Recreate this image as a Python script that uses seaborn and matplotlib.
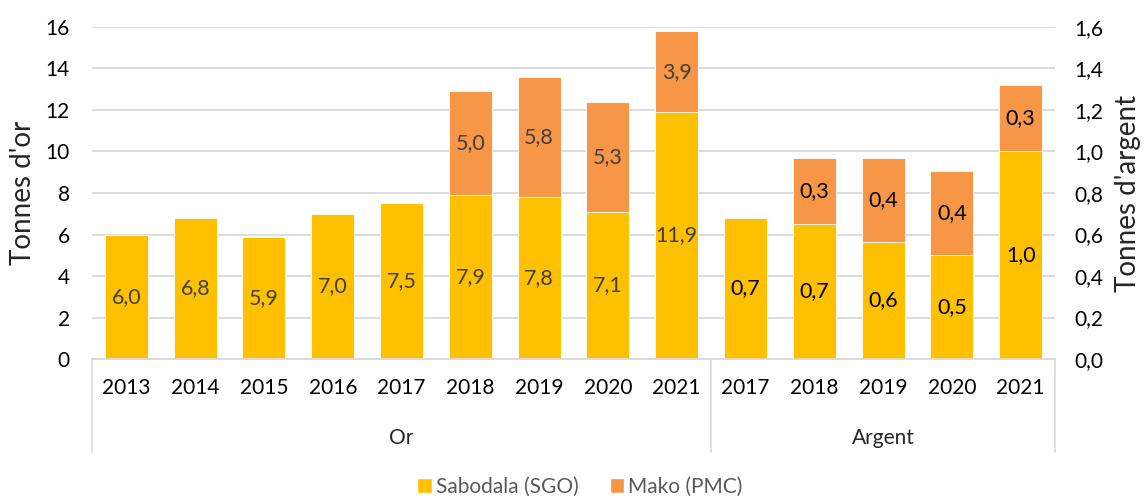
import pandas as pd
import matplotlib.pyplot as plt
import seaborn as sns
from matplotlib.patches import Patch

# Données
or_years = ['2013', '2014', '2015', '2016', '2017', '2018', '2019', '2020', '2021']
or_sgo = [6.0, 6.8, 5.9, 7.0, 7.5, 7.9, 7.8, 7.1, 11.9]
or_pmc = [0.0, 0.0, 0.0, 0.0, 0.0, 5.0, 5.8, 5.3, 3.9]

ag_years = ['2017', '2018', '2019', '2020', '2021']
ag_sgo = [0.68, 0.65, 0.565, 0.50, 1.0]
ag_pmc = [0.0, 0.32, 0.405, 0.405, 0.32]

groups = ['Or', 'Argent']
series = ['Sabodala (SGO)', 'Mako (PMC)']
gold_ticks = [0, 2, 4, 6, 8, 10, 12, 14, 16]
silver_ticks = [0.0, 0.2, 0.4, 0.6, 0.8, 1.0, 1.2, 1.4, 1.6]

C_SGO = '#FFC000'
C_PMC = '#F79646'
GRID = '#D9D9D9'

sns.set_theme(style='white')
plt.rcParams['font.family'] = ['Lato', 'DejaVu Sans']

df_or = pd.DataFrame({'cat': ['Or ' + y for y in or_years], 'sgo': or_sgo, 'pmc': or_pmc})
df_ag = pd.DataFrame({'cat': ['Argent ' + y for y in ag_years], 'sgo': ag_sgo, 'pmc': ag_pmc})
df_or['total'] = df_or['sgo'] + df_or['pmc']
df_ag['total'] = df_ag['sgo'] + df_ag['pmc']
order = list(df_or['cat']) + list(df_ag['cat'])

fig = plt.figure(figsize=(11.46, 4.98), dpi=100)
ax = fig.add_axes([0.0803, 0.2791, 0.8403, 0.6667])
ax2 = ax.twinx()

def draw(axis, data, label_color, fmt):
    sns.barplot(data=data, x='cat', y='total', order=order, color=C_PMC, saturation=1,
                width=0.625, edgecolor='white', linewidth=0.6, ax=axis)
    n_tot = len(axis.patches)
    sns.barplot(data=data, x='cat', y='sgo', order=order, color=C_SGO, saturation=1,
                width=0.625, edgecolor='white', linewidth=0.6, ax=axis)
    sgo_bars = axis.containers[-1]
    axis.bar_label(sgo_bars, labels=[fmt(v) for v in data['sgo']], label_type='center',
                   color=label_color, fontsize=15.5)
    tot_patches = [p for p in axis.patches[:n_tot] if p.get_height() > 0]
    for p, s, m in zip(tot_patches, data['sgo'], data['pmc']):
        if m > 0:
            axis.text(p.get_x() + p.get_width() / 2, s + m / 2, fmt(m), ha='center',
                      va='center', color=label_color, fontsize=15.5)

fmt1 = lambda v: f'{v:.1f}'.replace('.', ',')
draw(ax, df_or, '#404040', fmt1)
draw(ax2, df_ag, 'black', fmt1)

ax.set_ylim(0, 16)
ax2.set_ylim(0, 1.6)
for a in (ax, ax2):
    a.set_xlim(-0.5, len(order) - 0.5)
    a.set_xlabel('')
    for s in ['top', 'left', 'right']:
        a.spines[s].set_visible(False)
    a.spines['bottom'].set_color(GRID)
    a.spines['bottom'].set_linewidth(1.2)

ax.set_yticks(gold_ticks)
ax.set_yticklabels([str(t) for t in gold_ticks])
ax2.set_yticks(silver_ticks)
ax2.set_yticklabels([fmt1(t) for t in silver_ticks])
ax.tick_params(axis='y', length=0, pad=16, labelsize=15, labelcolor='black')
ax2.tick_params(axis='y', length=0, pad=14, labelsize=15, labelcolor='black')
ax.set_ylabel("Tonnes d'or", fontsize=20, labelpad=7)
ax2.set_ylabel("Tonnes d'argent", fontsize=20, labelpad=8)

ax.yaxis.grid(True, color=GRID, linewidth=1.3)
ax.set_axisbelow(True)
ax2.grid(False)

ax.set_xticks(range(len(order)))
ax.set_xticklabels(or_years + ag_years)
ax.tick_params(axis='x', length=0, pad=14, labelsize=15, labelcolor='black')
ax2.tick_params(axis='x', length=0, labelbottom=False)

# axe à deux niveaux
trans = ax.get_xaxis_transform()
n_or = len(or_years)
for xpos in [-0.5, n_or - 0.5, len(order) - 0.5]:
    ax.plot([xpos, xpos], [0, -0.28], color=GRID, lw=1.2, transform=trans, clip_on=False)
ax.text((n_or - 1) / 2, -0.237, groups[0], transform=trans, ha='center', va='center', fontsize=15)
ax.text(n_or + (len(ag_years) - 1) / 2, -0.237, groups[1], transform=trans, ha='center',
        va='center', fontsize=15)

handles = [Patch(facecolor=C_SGO), Patch(facecolor=C_PMC)]
fig.legend(handles, series, loc='center', bbox_to_anchor=(0.506, 0.022), ncol=2,
           frameon=False, fontsize=15, labelcolor='#595959', handlelength=0.7,
           handleheight=0.7, handletextpad=0.2, columnspacing=1.5)

fig.savefig('out.png', dpi=100)
